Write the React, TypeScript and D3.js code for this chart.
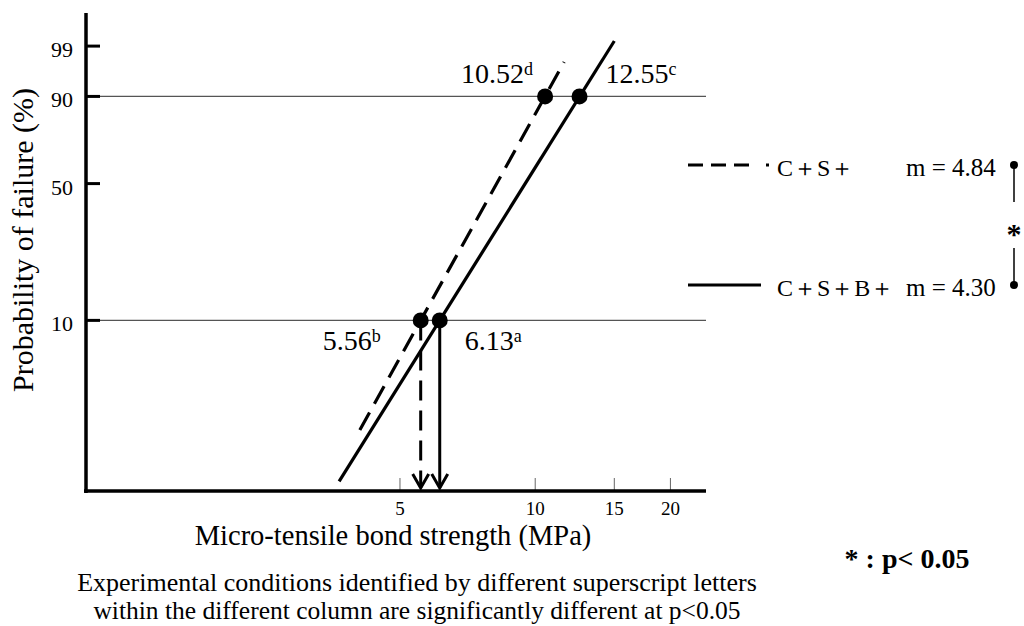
import * as d3 from 'd3'

// Weibull plot of micro-tensile bond strength
const groups = ['C＋S＋', 'C＋S＋B＋']
const modulus = [4.84, 4.30]
const strength10 = [5.56, 6.13]
const strength90 = [10.52, 12.55]
const letter10 = ['b', 'a']
const letter90 = ['d', 'c']
const fitFrom = [4.07, 3.66]
const fitTo = [11.6, 15.0]

const yTicks = [99, 90, 50, 10]
const xTicks = [5, 10, 15, 20]
const gridLevels = [90, 10]

const W = 1024
const H = 626
const font = '"Liberation Serif", "Times New Roman", serif'

const wb = (p: number) => Math.log(-Math.log(1 - p / 100))

const left = 86
const right = 706
const top = 13
const bottom = 491

const x = d3.scaleLog().domain([1, 24]).range([left, right])
const y = d3.scaleLinear().domain([wb(1), wb(99.93)]).range([bottom, top])

const dashes = ['20,10', null]
const legendDash = ['15,8,15,8,15,17,3,100', null]

// label placement around the points: [dx, dy, anchor]
const lab90: Array<[number, number, string]> = [[-12, -13, 'end'], [26, -13, 'start']]
const lab10: Array<[number, number, string]> = [[-40, 30, 'end'], [25, 30, 'start']]

const App = () => {
    const fit = (i: number) => {
        const w = (v: number) => modulus[i] * Math.log(v / strength10[i]) + wb(10)
        return d3.line<number>()
            .x(v => x(v))
            .y(v => y(w(v)))([fitFrom[i], fitTo[i]])
    }

    const legendY = [165, 285]

    return (
        <svg width={W} height={H} style={{ position: 'absolute', left: 0, top: 0 }} fontFamily={font}>
            <rect width={W} height={H} fill="white" />

            {gridLevels.map(p => (
                <line key={p} x1={left} x2={right} y1={y(wb(p))} y2={y(wb(p))} stroke="#555" strokeWidth={1.2} />
            ))}

            {xTicks.map(t => (
                <g key={t}>
                    <line x1={x(t)} x2={x(t)} y1={bottom} y2={bottom - 13} stroke="#666" strokeWidth={1} />
                    <text x={x(t)} y={515} textAnchor="middle" fontSize={19}>{t}</text>
                </g>
            ))}

            {yTicks.map(t => (
                <g key={t}>
                    <line x1={left} x2={left + 14} y1={y(wb(t))} y2={y(wb(t))} stroke="black" strokeWidth={3} />
                    <text x={73} y={y(wb(t)) + 11} textAnchor="end" fontSize={22}>{t}</text>
                </g>
            ))}

            <line x1={left} x2={left} y1={top} y2={bottom + 2} stroke="black" strokeWidth={3.5} />
            <line x1={left - 2} x2={right} y1={bottom} y2={bottom} stroke="black" strokeWidth={3.5} />

            {groups.map((g, i) => (
                <path key={g} d={fit(i) ?? ''} fill="none" stroke="black" strokeWidth={3.2}
                    strokeDasharray={dashes[i] ?? undefined} />
            ))}

            {groups.map((g, i) => {
                const px = x(strength10[i])
                const py = y(wb(10))
                return (
                    <g key={g + 'arrow'}>
                        <line x1={px} x2={px} y1={py} y2={bottom - 3} stroke="black" strokeWidth={3}
                            strokeDasharray={dashes[i] ?? undefined} />
                        <polyline points={`${px - 8},${bottom - 17} ${px},${bottom - 3} ${px + 8},${bottom - 17}`}
                            fill="none" stroke="black" strokeWidth={3} />
                    </g>
                )
            })}

            {groups.map((g, i) => (
                <g key={g + 'pts'}>
                    <circle cx={x(strength10[i])} cy={y(wb(10))} r={8} fill="black" />
                    <circle cx={x(strength90[i])} cy={y(wb(90))} r={8} fill="black" />
                    <text x={x(strength90[i]) + lab90[i][0]} y={y(wb(90)) + lab90[i][1]}
                        textAnchor={lab90[i][2]} fontSize={28}>
                        {strength90[i].toFixed(2)}<tspan fontSize={18} dy={-8}>{letter90[i]}</tspan>
                    </text>
                    <text x={x(strength10[i]) + lab10[i][0]} y={y(wb(10)) + lab10[i][1]}
                        textAnchor={lab10[i][2]} fontSize={28}>
                        {strength10[i].toFixed(2)}<tspan fontSize={18} dy={-8}>{letter10[i]}</tspan>
                    </text>
                </g>
            ))}

            {groups.map((g, i) => (
                <g key={g + 'leg'}>
                    <line x1={688} x2={i === 0 ? 769 : 761} y1={legendY[i]} y2={legendY[i]} stroke="black"
                        strokeWidth={3.2} strokeDasharray={legendDash[i] ?? undefined} />
                    <text x={777} y={legendY[i] + 11} fontSize={24}>{g}</text>
                    <text x={906} y={legendY[i] + 11} fontSize={25}>m = {modulus[i].toFixed(2)}</text>
                    <circle cx={1014} cy={legendY[i]} r={4} fill="black" />
                </g>
            ))}
            <line x1={1014} x2={1014} y1={legendY[0]} y2={202} stroke="black" strokeWidth={1.5} />
            <line x1={1014} x2={1014} y1={248} y2={legendY[1]} stroke="black" strokeWidth={1.5} />
            <text x={1014} y={244} textAnchor="middle" fontSize={30} fontWeight="bold">*</text>

            <text transform="translate(33,240) rotate(-90)" textAnchor="middle" fontSize={30}>
                Probability of failure (%)
            </text>
            <text x={393} y={545} textAnchor="middle" fontSize={28.5}>Micro-tensile bond strength (MPa)</text>

            <text x={417} y={591} textAnchor="middle" fontSize={26}>
                Experimental conditions identified by different superscript letters
            </text>
            <text x={417} y={619} textAnchor="middle" fontSize={25.5}>
                within the different column are significantly different at p&lt;0.05
            </text>
            <text x={907} y={568} textAnchor="middle" fontSize={28} fontWeight="bold">* : p&lt; 0.05</text>
        </svg>
    )
}

export default App
